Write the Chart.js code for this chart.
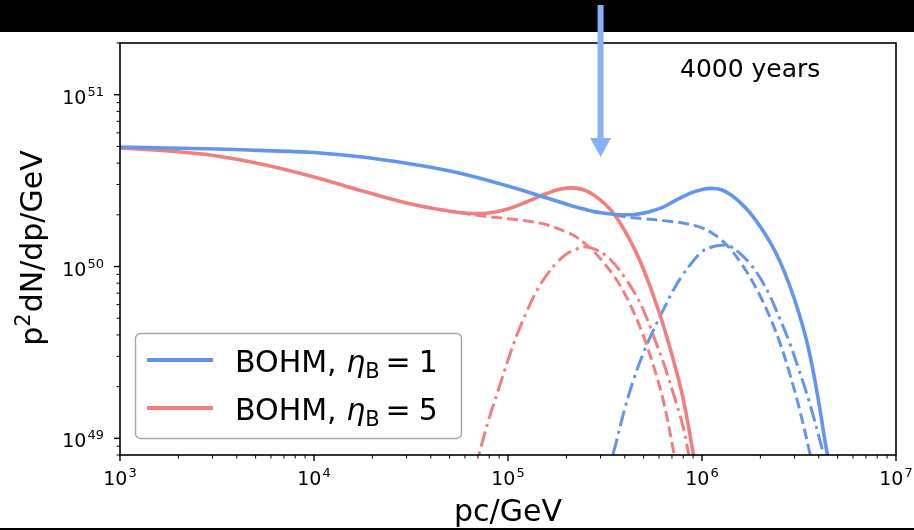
<!DOCTYPE html>
<html>
<head>
<meta charset="utf-8">
<script src="https://cdn.jsdelivr.net/npm/chart.js@4.4.0/dist/chart.umd.min.js"></script>
<style>
  html, body { margin: 0; padding: 0; background: #fff; }
  canvas { display: block; }
</style>
</head>
<body>
<canvas id="spectrum" width="914" height="530"></canvas>
<script>
// Momentum (GeV/c) and p^2 dN/dp (GeV) for each curve

// eta_B = 1: total, first component (dashed), second component (dash-dot)
const b1TotalP = [1e3, 1.778e3, 3.162e3, 5.623e3, 1e4, 1.778e4, 3.162e4, 5.012e4, 7.079e4, 1e5,
                  1.413e5, 1.995e5, 2.239e5, 2.512e5, 2.818e5, 3.162e5, 3.548e5, 3.981e5, 4.467e5, 5.012e5,
                  5.623e5, 6.310e5, 7.079e5, 7.943e5, 8.913e5, 1e6, 1.122e6, 1.259e6, 1.413e6, 1.585e6,
                  1.778e6, 1.995e6, 2.239e6, 2.512e6, 2.818e6, 3.162e6, 3.548e6, 3.981e6, 4.416e6, 4.786e6];
const b1Total  = [4.96e50, 4.90e50, 4.83e50, 4.73e50, 4.61e50, 4.34e50, 3.95e50, 3.60e50, 3.28e50, 2.94e50,
                  2.61e50, 2.31e50, 2.22e50, 2.15e50, 2.08e50, 2.04e50, 2.01e50, 2.00e50, 2.01e50, 2.05e50,
                  2.12e50, 2.22e50, 2.38e50, 2.54e50, 2.70e50, 2.81e50, 2.85e50, 2.80e50, 2.61e50, 2.34e50,
                  2.04e50, 1.71e50, 1.39e50, 1.08e50, 7.86e49, 5.33e49, 3.29e49, 1.67e49, 8.2e48, 5.57e48];

const b1LowP = [3.548e5, 3.981e5, 5.012e5, 6.310e5, 7.943e5, 1e6, 1.122e6, 1.259e6, 1.413e6, 1.585e6,
                1.778e6, 1.995e6, 2.239e6, 2.512e6, 2.818e6, 3.162e6, 3.548e6, 3.802e6];
const b1Low  = [2.00e50, 1.95e50, 1.90e50, 1.85e50, 1.79e50, 1.68e50, 1.57e50, 1.43e50, 1.25e50, 1.05e50,
                8.57e49, 6.74e49, 5.08e49, 3.64e49, 2.43e49, 1.52e49, 8.78e48, 6.12e48];

const b1HighP = [3.162e5, 3.548e5, 3.981e5, 4.467e5, 5.012e5, 5.623e5, 6.310e5, 7.079e5, 7.943e5, 8.913e5,
                 1e6, 1.122e6, 1.259e6, 1.413e6, 1.585e6, 1.778e6, 1.995e6, 2.239e6, 2.512e6, 2.818e6,
                 3.162e6, 3.548e6, 3.981e6, 4.365e6];
const b1High  = [5.57e48, 8.78e48, 1.46e49, 2.24e49, 3.18e49, 4.27e49, 5.58e49, 7.21e49, 8.93e49, 1.06e50,
                 1.22e50, 1.30e50, 1.33e50, 1.30e50, 1.18e50, 1.03e50, 8.57e49, 6.74e49, 5.01e49, 3.64e49,
                 2.50e49, 1.67e49, 1.05e49, 7.0e48];

// eta_B = 5: total, first component (dashed), second component (dash-dot)
const b5TotalP = [1e3, 1.778e3, 3.162e3, 5.623e3, 1e4, 1.778e4, 3.162e4, 5.012e4, 6.310e4, 7.943e4,
                  1e5, 1.259e5, 1.585e5, 1.778e5, 1.995e5, 2.239e5, 2.512e5, 2.818e5, 3.162e5, 3.548e5,
                  3.981e5, 4.467e5, 5.012e5, 5.623e5, 6.310e5, 7.079e5, 7.943e5, 8.913e5, 9.44e5];
const b5Total  = [4.90e50, 4.70e50, 4.40e50, 3.90e50, 3.32e50, 2.75e50, 2.31e50, 2.10e50, 2.04e50, 2.05e50,
                  2.16e50, 2.39e50, 2.66e50, 2.79e50, 2.86e50, 2.86e50, 2.77e50, 2.57e50, 2.31e50, 2.00e50,
                  1.63e50, 1.28e50, 9.55e49, 6.74e49, 4.57e49, 2.93e49, 1.76e49, 8.78e48, 5.87e48];

const b5LowP = [5.623e4, 7.079e4, 1e5, 1.259e5, 1.585e5, 1.995e5, 2.239e5, 2.512e5, 2.818e5, 3.162e5,
                3.548e5, 3.981e5, 4.467e5, 5.012e5, 5.623e5, 6.310e5, 7.079e5, 7.499e5];
const b5Low  = [2.07e50, 1.98e50, 1.90e50, 1.84e50, 1.75e50, 1.59e50, 1.49e50, 1.35e50, 1.20e50, 1.03e50,
                8.69e49, 7.01e49, 5.36e49, 3.89e49, 2.64e49, 1.67e49, 8.78e48, 6.12e48];

const b5HighP = [6.683e4, 7.079e4, 7.943e4, 8.913e4, 1e5, 1.122e5, 1.259e5, 1.413e5, 1.585e5, 1.778e5,
                 1.995e5, 2.239e5, 2.512e5, 2.818e5, 3.162e5, 3.548e5, 3.981e5, 4.467e5, 5.012e5, 5.623e5,
                 6.310e5, 7.079e5, 7.943e5, 8.414e5, 8.913e5];
const b5High  = [6.12e48, 8.0e48, 1.28e49, 1.91e49, 2.86e49, 4.10e49, 5.58e49, 7.30e49, 8.93e49, 1.05e50,
                 1.18e50, 1.26e50, 1.30e50, 1.26e50, 1.17e50, 1.03e50, 8.69e49, 7.11e49, 5.51e49, 3.94e49,
                 2.78e49, 1.86e49, 1.20e49, 8.78e48, 6.12e48];

// axis ranges and decade labels
const xRange = [1e3, 1e7];
const yRange = [8e48, 2e51];
const xDecades = [3, 4, 5, 6, 7];
const yDecades = [49, 50, 51];

const legendLabels = ['1', '5'];
const ageLabel = '4000 years';
const arrowMomentum = 3e5;

const BLUE = '#6495ed';
const RED = '#f08080';
const FONT = '"DejaVu Sans", sans-serif';

function pts(xs, ys) {
    return xs.map((x, i) => ({ x: x, y: ys[i] }));
}

function curve(xs, ys, color, dash, width) {
    return {
        data: pts(xs, ys),
        borderColor: color,
        borderWidth: width,
        borderDash: dash,
        borderCapStyle: 'butt',
        borderJoinStyle: 'round',
        pointRadius: 0,
        fill: false,
        tension: 0.4
    };
}

const DASHED = [11, 5];
const DASHDOT = [16, 5, 3, 5];

// 10^n label with a raised exponent
function drawPower(ctx, exp, x, baseline, align) {
    const base = '10', sup = String(exp);
    ctx.font = '19px ' + FONT;
    const wb = ctx.measureText(base).width;
    ctx.font = '13px ' + FONT;
    const ws = ctx.measureText(sup).width;
    const w = wb + 1 + ws;
    const x0 = align === 'right' ? x - w : x - w / 2;
    ctx.textAlign = 'left';
    ctx.textBaseline = 'alphabetic';
    ctx.font = '19px ' + FONT;
    ctx.fillText(base, x0, baseline);
    ctx.font = '13px ' + FONT;
    ctx.fillText(sup, x0 + wb + 1, baseline - 8);
}

function drawMinorMajorTicks(ctx, scale, horizontal, area) {
    const lo = Math.floor(Math.log10(scale.min));
    const hi = Math.ceil(Math.log10(scale.max));
    for (let n = lo; n <= hi; n++) {
        for (let k = 1; k <= 9; k++) {
            const v = k * Math.pow(10, n);
            if (v < scale.min * 0.999 || v > scale.max * 1.001) continue;
            const p = scale.getPixelForValue(v);
            const len = k === 1 ? 6 : 3.5;
            ctx.lineWidth = k === 1 ? 1.4 : 1;
            ctx.beginPath();
            if (horizontal) {
                ctx.moveTo(p, area.bottom);
                ctx.lineTo(p, area.bottom + len);
            } else {
                ctx.moveTo(area.left, p);
                ctx.lineTo(area.left - len, p);
            }
            ctx.stroke();
        }
    }
}

const decorations = {
    id: 'decorations',
    afterDraw(chart) {
        const ctx = chart.ctx;
        const area = chart.chartArea;
        const xs = chart.scales.x;
        const ys = chart.scales.y;
        ctx.save();

        // frame
        ctx.strokeStyle = '#000';
        ctx.lineWidth = 1.6;
        ctx.strokeRect(area.left, area.top, area.right - area.left, area.bottom - area.top);

        // ticks
        ctx.strokeStyle = '#000';
        drawMinorMajorTicks(ctx, xs, true, area);
        drawMinorMajorTicks(ctx, ys, false, area);

        // tick labels
        ctx.fillStyle = '#000';
        xDecades.forEach(n => drawPower(ctx, n, xs.getPixelForValue(Math.pow(10, n)), 485, 'center'));
        yDecades.forEach(n => drawPower(ctx, n, area.left - 16, ys.getPixelForValue(Math.pow(10, n)) + 9, 'right'));

        // axis titles
        ctx.font = '30px ' + FONT;
        ctx.textAlign = 'center';
        ctx.textBaseline = 'alphabetic';
        ctx.fillText('pc/GeV', (area.left + area.right) / 2, 521);

        ctx.save();
        ctx.translate(42, 248);
        ctx.rotate(-Math.PI / 2);
        ctx.textAlign = 'left';
        ctx.font = '30px ' + FONT;
        const wp = ctx.measureText('p').width;
        const rest = 'dN/dp/GeV';
        const wr = ctx.measureText(rest).width;
        ctx.font = '21px ' + FONT;
        const w2 = ctx.measureText('2').width;
        const total = wp + w2 + 1 + wr;
        let tx = -total / 2;
        ctx.font = '30px ' + FONT;
        ctx.fillText('p', tx, 0);
        tx += wp;
        ctx.font = '21px ' + FONT;
        ctx.fillText('2', tx, -12);
        tx += w2 + 1;
        ctx.font = '30px ' + FONT;
        ctx.fillText(rest, tx, 0);
        ctx.restore();

        // age annotation
        ctx.font = '25px ' + FONT;
        ctx.textAlign = 'left';
        ctx.fillText(ageLabel, 680, 77);

        // legend
        const lx = 135.5, ly = 333.5, lw = 326, lh = 105;
        ctx.fillStyle = 'rgba(255,255,255,0.8)';
        ctx.strokeStyle = '#a8a8a8';
        ctx.lineWidth = 1.5;
        ctx.beginPath();
        ctx.roundRect(lx, ly, lw, lh, 5);
        ctx.fill();
        ctx.stroke();
        [BLUE, RED].forEach((color, i) => {
            const cy = 360 + i * 48;
            ctx.strokeStyle = color;
            ctx.lineWidth = 4;
            ctx.beginPath();
            ctx.moveTo(147, cy);
            ctx.lineTo(213, cy);
            ctx.stroke();

            const base = cy + 12;
            let x = 235;
            ctx.fillStyle = '#000';
            ctx.textAlign = 'left';
            ctx.font = '30px ' + FONT;
            ctx.fillText('BOHM, ', x, base);
            x += ctx.measureText('BOHM, ').width;
            ctx.font = 'italic 30px ' + FONT;
            ctx.fillText('\u03b7', x, base);
            x += ctx.measureText('\u03b7').width;
            ctx.font = '21px ' + FONT;
            ctx.fillText('B', x, base + 6);
            x += ctx.measureText('B').width + 6;
            ctx.font = '30px ' + FONT;
            ctx.fillText('=', x, base);
            x += ctx.measureText('=').width + 8;
            ctx.fillText(legendLabels[i], x, base);
        });

        // black band across the top and thin rule at the bottom
        ctx.fillStyle = '#000';
        ctx.fillRect(0, 0, chart.width, 32);
        ctx.fillRect(0, 528, chart.width, 2);

        // arrow marking the momentum of interest
        const ax = xs.getPixelForValue(arrowMomentum);
        ctx.fillStyle = '#88b1f5';
        ctx.fillRect(ax - 3, 5, 6, 134);
        ctx.beginPath();
        ctx.moveTo(ax - 10.5, 138);
        ctx.lineTo(ax + 10.5, 138);
        ctx.lineTo(ax, 157);
        ctx.closePath();
        ctx.fill();

        ctx.restore();
    }
};

new Chart(document.getElementById('spectrum'), {
    type: 'line',
    data: {
        datasets: [
            curve(b1TotalP, b1Total, BLUE, [], 3.6),
            curve(b5TotalP, b5Total, RED, [], 3.6),
            curve(b1LowP, b1Low, BLUE, DASHED, 3),
            curve(b5LowP, b5Low, RED, DASHED, 3),
            curve(b1HighP, b1High, BLUE, DASHDOT, 3),
            curve(b5HighP, b5High, RED, DASHDOT, 3)
        ]
    },
    options: {
        responsive: false,
        devicePixelRatio: 1,
        animation: false,
        layout: { padding: { left: 120, right: 18, top: 43, bottom: 75 } },
        plugins: {
            legend: { display: false },
            tooltip: { enabled: false }
        },
        scales: {
            x: { type: 'logarithmic', min: xRange[0], max: xRange[1], display: false },
            y: { type: 'logarithmic', min: yRange[0], max: yRange[1], display: false }
        }
    },
    plugins: [decorations]
});
</script>
</body>
</html>
